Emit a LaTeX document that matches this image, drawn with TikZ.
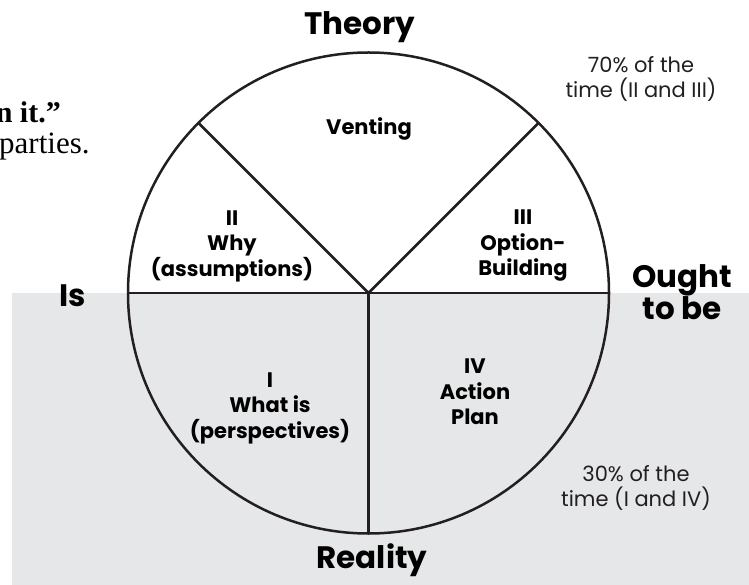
\documentclass[tikz,border=0pt]{standalone}
\usepackage{fontspec}
\setmainfont{Poppins}
\newfontfamily\quotefont{Liberation Serif}
\definecolor{ink}{HTML}{231F20}
\definecolor{lowgray}{HTML}{E6E7E8}
\tikzset{
  x=1pt, y=-1pt,
  rim/.style={draw=ink, line width=2.5pt},
  axislabel/.style={font=\fontsize{31}{31}\selectfont\bfseries, text=black, inner sep=0pt},
  sectorlabel/.style={font=\fontsize{21}{25.5}\selectfont\bfseries, text=black, align=center, inner sep=0pt},
  shareline/.style={font=\fontsize{21}{25.5}\selectfont, text=ink, align=center, inner sep=0pt},
}
\begin{document}
\begin{tikzpicture}
\useasboundingbox (0,0) rectangle (749,585);
\clip (0,0) rectangle (749,585);
% shaded lower half ("reality" side)
\fill[lowgray] (12,293) rectangle (749,585);
% quotation fragment on the left
\node[anchor=base east, inner sep=0pt, font=\quotefont\fontsize{30}{30}\selectfont\bfseries] (q1) at (61,123) {n it.”};
\node[anchor=base west, inner sep=0pt, font=\quotefont\fontsize{31}{31}\selectfont] (q2) at (-1,154) {parties.};
% the wheel
\coordinate (c) at (368.5,293);
\coordinate (ul) at (198.5,123);
\coordinate (ur) at (538.5,123);
\coordinate (w) at (128,293);
\coordinate (e) at (609,293);
\coordinate (s) at (368.5,533.5);
\draw[rim] (c) circle (240.5);
\draw[rim] (w) -- (e);
\draw[rim] (c) -- (s);
\draw[rim] (ul) -- (c) -- (ur);
% axis labels
\node[axislabel] (theory) at (360,27) {Theory};
\node[axislabel] (reality) at (372,560) {Reality};
\node[axislabel] (is) at (73,296) {Is};
\node[axislabel, align=center, font=\fontsize{31}{23}\selectfont\bfseries] (ought) at (682,292) {Ought\\to be};
% sectors
\node[sectorlabel] (venting) at (369,129) {Venting};
\node[sectorlabel] (s2) at (232,246) {II\\Why\\(assumptions)};
\node[sectorlabel] (s3) at (523,246) {III\\Option-\\Building};
\node[sectorlabel] (s1) at (270,408) {I\\What is\\(perspectives)};
\node[sectorlabel] (s4) at (475,392) {IV\\Action\\Plan};
% time shares
\node[shareline] (t70) at (641,79) {70\% of the\\time (II and III)};
\node[shareline] (t30) at (636,488) {30\% of the\\time (I and IV)};
\end{tikzpicture}
\end{document}
